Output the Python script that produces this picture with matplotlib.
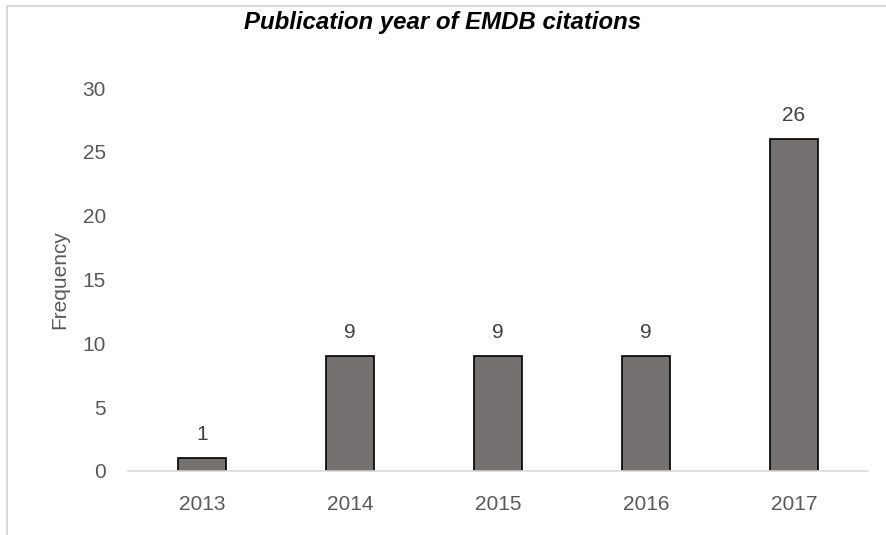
import matplotlib
matplotlib.use('Agg')
import matplotlib.pyplot as plt
from matplotlib.lines import Line2D

# chart data
years = ['2013', '2014', '2015', '2016', '2017']
frequency = [1, 9, 9, 9, 26]
y_ticks = [0, 5, 10, 15, 20, 25, 30]

title_text = 'Publication year of EMDB citations'
y_label = 'Frequency'

BAR_COLOR = '#767171'
TEXT_COLOR = '#595959'
LINE_COLOR = '#d9d9d9'

plt.rcParams['font.family'] = ['Liberation Sans', 'DejaVu Sans']

fig = plt.figure(figsize=(8.87, 5.35), dpi=100)
ax = fig.add_axes([128 / 887, 64 / 535, 740 / 887, 383 / 535])

x = range(len(years))
bars = ax.bar(x, frequency, width=0.32, color=BAR_COLOR,
              edgecolor='black', linewidth=1.2, zorder=3)

# value labels above each bar
for rect, val in zip(bars, frequency):
    ax.annotate(str(val), (rect.get_x() + rect.get_width() / 2, rect.get_height()),
                xytext=(0, 10), textcoords='offset points',
                ha='center', va='bottom', fontsize=15, color='#404040')

ax.set_xlim(-0.5, len(years) - 0.5)
ax.set_ylim(0, 30)
ax.set_xticks(list(x))
ax.set_xticklabels(years)
ax.set_yticks(y_ticks)
ax.tick_params(axis='both', length=0, labelsize=15, labelcolor=TEXT_COLOR)
ax.tick_params(axis='y', pad=16)
ax.tick_params(axis='x', pad=17)

for side in ['top', 'right', 'left']:
    ax.spines[side].set_visible(False)
ax.spines['bottom'].set_color(LINE_COLOR)
ax.spines['bottom'].set_linewidth(1.2)
ax.spines['bottom'].set_zorder(4)

ax.set_ylabel(y_label, fontsize=15, color=TEXT_COLOR)
ax.yaxis.set_label_coords(-59 / 740, 0.5)

fig.text(443 / 887, 1 - 23 / 535, title_text, ha='center', va='center',
         fontsize=17.3, fontweight='bold', fontstyle='italic', color='black')

# outer chart border (only top and left visible in the crop)
fig.add_artist(Line2D([7 / 887, 1], [1 - 6 / 535, 1 - 6 / 535],
                      transform=fig.transFigure, color=LINE_COLOR, linewidth=1.5))
fig.add_artist(Line2D([7 / 887, 7 / 887], [0, 1 - 6 / 535],
                      transform=fig.transFigure, color=LINE_COLOR, linewidth=1.5))

fig.savefig('out.png', dpi=100)
